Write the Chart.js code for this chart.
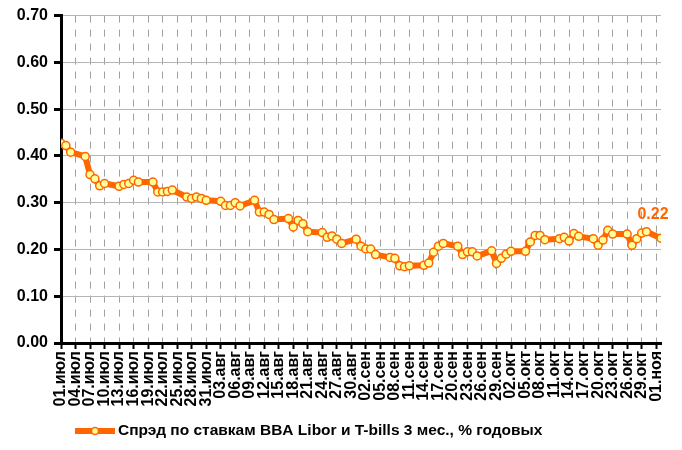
<!DOCTYPE html>
<html>
<head>
<meta charset="utf-8">
<script src="https://cdn.jsdelivr.net/npm/chart.js@4/dist/chart.umd.min.js"></script>
<style>
  html, body { margin: 0; padding: 0; background: #fff; }
  canvas { display: block; }
</style>
</head>
<body>
<canvas id="chart" width="682" height="450"></canvas>
<script>
const YEAR = 2009;

// x-axis labels, one every 3 days starting 01.07
const tickLabels = [
  "01.июл", "04.июл", "07.июл", "10.июл", "13.июл", "16.июл", "19.июл", "22.июл", "25.июл", "28.июл", "31.июл",
  "03.авг", "06.авг", "09.авг", "12.авг", "15.авг", "18.авг", "21.авг", "24.авг", "27.авг", "30.авг",
  "02.сен", "05.сен", "08.сен", "11.сен", "14.сен", "17.сен", "20.сен", "23.сен", "26.сен", "29.сен",
  "02.окт", "05.окт", "08.окт", "11.окт", "14.окт", "17.окт", "20.окт", "23.окт", "26.окт", "29.окт",
  "01.ноя"
];

// trading days
const dates = [
  "01.07", "02.07", "03.07", "06.07", "07.07", "08.07", "09.07", "10.07",
  "13.07", "14.07", "15.07", "16.07", "17.07", "20.07", "21.07", "22.07", "23.07", "24.07",
  "27.07", "28.07", "29.07", "30.07", "31.07", "03.08", "04.08", "05.08", "06.08", "07.08",
  "10.08", "11.08", "12.08", "13.08", "14.08", "17.08", "18.08", "19.08", "20.08", "21.08",
  "24.08", "25.08", "26.08", "27.08", "28.08", "31.08", "01.09", "02.09", "03.09", "04.09",
  "07.09", "08.09", "09.09", "10.09", "11.09", "14.09", "15.09", "16.09", "17.09", "18.09",
  "21.09", "22.09", "23.09", "24.09", "25.09", "28.09", "29.09", "30.09", "01.10", "02.10",
  "05.10", "06.10", "07.10", "08.10", "09.10", "12.10", "13.10", "14.10", "15.10", "16.10",
  "19.10", "20.10", "21.10", "22.10", "23.10", "26.10", "27.10", "28.10", "29.10", "30.10",
  "02.11"
];

// spread BBA Libor vs T-bills 3m, % p.a.
const spread = [
  0.427, 0.422, 0.408, 0.399, 0.360, 0.351, 0.336, 0.341,
  0.335, 0.339, 0.341, 0.348, 0.344, 0.344, 0.323, 0.323, 0.324, 0.327,
  0.312, 0.309, 0.312, 0.309, 0.305, 0.303, 0.294, 0.294, 0.300, 0.293,
  0.305, 0.280, 0.280, 0.275, 0.264, 0.266, 0.248, 0.262, 0.255, 0.238,
  0.236, 0.226, 0.229, 0.222, 0.213, 0.222, 0.207, 0.201, 0.201, 0.189,
  0.183, 0.181, 0.165, 0.163, 0.165, 0.166, 0.171, 0.194, 0.207, 0.213,
  0.207, 0.189, 0.195, 0.195, 0.186, 0.197, 0.170, 0.181, 0.190, 0.196,
  0.196, 0.216, 0.230, 0.230, 0.221, 0.223, 0.226, 0.218, 0.234, 0.228,
  0.223, 0.209, 0.220, 0.241, 0.233, 0.233, 0.209, 0.223, 0.235, 0.238,
  0.224
];

const yTicks = [0, 0.1, 0.2, 0.3, 0.4, 0.5, 0.6, 0.7];
const seriesName = "Спрэд по ставкам BBA Libor и T-bills 3 мес., % годовых";

const FONT = "'Liberation Sans', Arial, sans-serif";
const ORANGE = "#FF6600";
const MARKER_FILL = "#FFFF99";

const start = Date.UTC(YEAR, 6, 1);
function dayIndex(s) {
  const [d, m] = s.split(".").map(Number);
  return Math.round((Date.UTC(YEAR, m - 1, d) - start) / 86400000);
}

const points = dates.map((d, i) => ({ x: dayIndex(d), y: spread[i] }));
const lastDay = dayIndex(dates[dates.length - 1]);

// value label on the last point + legend
const extras = {
  id: "extras",
  afterDatasetsDraw(chart) {
    const ctx = chart.ctx;
    const pts = chart.getDatasetMeta(0).data;
    const last = pts[pts.length - 1];
    ctx.save();
    ctx.font = "bold 16px " + FONT;
    ctx.fillStyle = ORANGE;
    ctx.textAlign = "center";
    ctx.textBaseline = "middle";
    ctx.fillText(spread[spread.length - 1].toFixed(2), last.x - 8, last.y - 24);

    // legend
    const ly = 431;
    ctx.strokeStyle = ORANGE;
    ctx.lineWidth = 6;
    ctx.beginPath();
    ctx.moveTo(75, ly);
    ctx.lineTo(115, ly);
    ctx.stroke();
    ctx.beginPath();
    ctx.arc(95, ly, 3.5, 0, Math.PI * 2);
    ctx.fillStyle = MARKER_FILL;
    ctx.fill();
    ctx.lineWidth = 1.5;
    ctx.stroke();
    ctx.font = "bold 15.5px " + FONT;
    ctx.fillStyle = "#000";
    ctx.textAlign = "left";
    ctx.fillText(seriesName, 118, ly);
    ctx.restore();
  }
};

new Chart(document.getElementById("chart"), {
  type: "line",
  data: {
    datasets: [{
      label: seriesName,
      data: points,
      borderColor: ORANGE,
      borderWidth: 6,
      pointRadius: 4,
      pointBackgroundColor: MARKER_FILL,
      pointBorderColor: ORANGE,
      pointBorderWidth: 1.5,
      tension: 0
    }]
  },
  options: {
    responsive: false,
    animation: false,
    devicePixelRatio: 1,
    layout: { padding: { top: 15, right: 21, left: 0, bottom: 37 } },
    plugins: {
      legend: { display: false },
      tooltip: { enabled: false }
    },
    scales: {
      x: {
        type: "linear",
        min: 0,
        max: lastDay,
        afterFit: (s) => { s.height = 70; },
        ticks: {
          stepSize: 3,
          includeBounds: false,
          autoSkip: false,
          minRotation: 90,
          maxRotation: 90,
          padding: 2,
          color: "#000",
          font: { family: FONT, size: 16, weight: "bold" },
          callback: (v) => {
            const i = v / 3;
            return Number.isInteger(i) && i < tickLabels.length ? tickLabels[i] : null;
          }
        },
        grid: {
          color: "#A0A0A0",
          lineWidth: 1,
          tickColor: "#000",
          tickLength: 6,
          tickWidth: 2
        },
        border: { color: "#000", width: 3, dash: [7, 7] }
      },
      y: {
        min: yTicks[0],
        max: yTicks[yTicks.length - 1],
        afterFit: (s) => { s.width = 61; },
        afterBuildTicks: (s) => { s.ticks = yTicks.map(v => ({ value: v })); },
        ticks: {
          padding: 6,
          color: "#000",
          font: { family: FONT, size: 16, weight: "bold" },
          callback: (v) => v.toFixed(2)
        },
        grid: {
          color: "#B4B4B4",
          lineWidth: 1,
          tickColor: "#000",
          tickLength: 7,
          tickWidth: 3
        },
        border: { color: "#000", width: 3 }
      }
    }
  },
  plugins: [extras]
});
</script>
</body>
</html>
